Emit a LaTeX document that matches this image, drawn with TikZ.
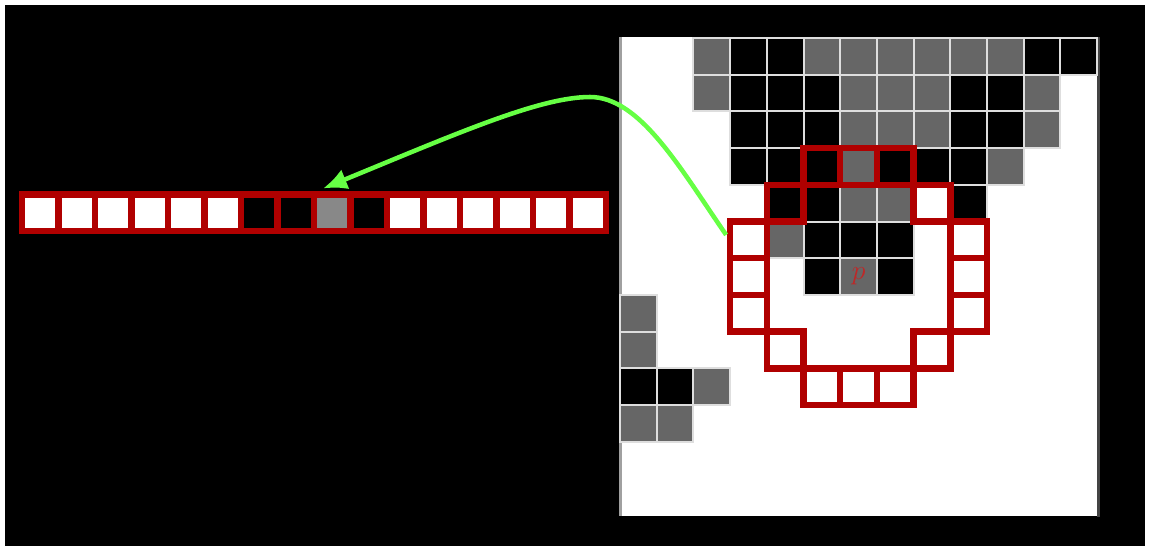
\documentclass[tikz,border=0pt]{standalone}
\usetikzlibrary{arrows.meta,calc}
\definecolor{ringred}{RGB}{176,0,0}
\definecolor{pxgray}{RGB}{102,102,102}
\definecolor{bargray}{RGB}{136,136,136}
\definecolor{gridline}{RGB}{222,222,222}
\definecolor{arrowgreen}{RGB}{102,255,68}
\definecolor{pred}{RGB}{190,40,40}
\definecolor{edgeL}{RGB}{160,160,160}
\definecolor{edgeR}{RGB}{68,68,68}
\tikzset{
  px/.style={minimum size=27.525pt, inner sep=0pt, outer sep=0pt, draw=gridline, line width=1.5pt},
  ringbox/.style={minimum size=27.525pt, inner sep=0pt, outer sep=0pt, draw=ringred, line width=4.9pt},
  barcell/.style={minimum size=27.375pt, inner sep=0pt, outer sep=0pt, draw=ringred, line width=4.9pt},
  greenarrow/.style={draw=arrowgreen, line width=3.4pt, -{Latex[length=18pt,width=16pt]}},
}
\begin{document}
\begin{tikzpicture}[x=0.75pt, y=-0.75pt]
\useasboundingbox (0,0) rectangle (1149,546);
\fill[white] (0,0) rectangle (1149,546);
\fill[black] (5,5) rectangle (1145,546);
% image panel
\fill[white] (620,37) rectangle (1097,516);
\draw[edgeL, line width=2.25pt] (620,37) -- (620,516);
\draw[edgeR, line width=2.25pt] (1098.5,37) -- (1098.5,517);
% pixels
\foreach \c/\r/\col in {
  2/0/pxgray, 3/0/black, 4/0/black, 5/0/pxgray, 6/0/pxgray, 7/0/pxgray, 8/0/pxgray, 9/0/pxgray, 10/0/pxgray, 11/0/black, 12/0/black,
  2/1/pxgray, 3/1/black, 4/1/black, 5/1/black, 6/1/pxgray, 7/1/pxgray, 8/1/pxgray, 9/1/black, 10/1/black, 11/1/pxgray,
  3/2/black, 4/2/black, 5/2/black, 6/2/pxgray, 7/2/pxgray, 8/2/pxgray, 9/2/black, 10/2/black, 11/2/pxgray,
  3/3/black, 4/3/black, 5/3/black, 6/3/pxgray, 7/3/black, 8/3/black, 9/3/black, 10/3/pxgray,
  4/4/black, 5/4/black, 6/4/pxgray, 7/4/pxgray, 9/4/black,
  4/5/pxgray, 5/5/black, 6/5/black, 7/5/black,
  5/6/black, 6/6/pxgray, 7/6/black,
  0/7/pxgray,
  0/8/pxgray,
  0/9/black, 1/9/black, 2/9/pxgray,
  0/10/pxgray, 1/10/pxgray}
  \node[px, fill=\col] (g\c-\r) at ({620+(\c+0.5)*36.7},{38+(\r+0.5)*36.7}) {};
% Bresenham circle of 16 pixels around p
\foreach \c/\r [count=\i] in {6/3,7/3,8/4,9/5,9/6,9/7,8/8,7/9,6/9,5/9,4/8,3/7,3/6,3/5,4/4,5/3}
  \node[ringbox] (ring\i) at ({620+(\c+0.5)*36.7},{38+(\r+0.5)*36.7}) {};
\node[text=pred, inner sep=0pt] (p) at (g6-6.center) {\fontsize{21}{21}\selectfont$p$};
% unrolled ring
\foreach \col [count=\i] in {white,white,white,white,white,white,black,black,bargray,black,white,white,white,white,white,white}
  \node[barcell, fill=\col] (b\i) at ({22+(\i-0.5)*36.5},212.75) {};
% arrow
\coordinate (peak) at (590,97);
\draw[greenarrow] ($(ring14.west)+(-4,-5)$) .. controls (680,168) and (640,97) .. (peak)
  .. controls (540,97) and (458,133) .. ($(b9.north west)+(9,-6)$);
\end{tikzpicture}
\end{document}
